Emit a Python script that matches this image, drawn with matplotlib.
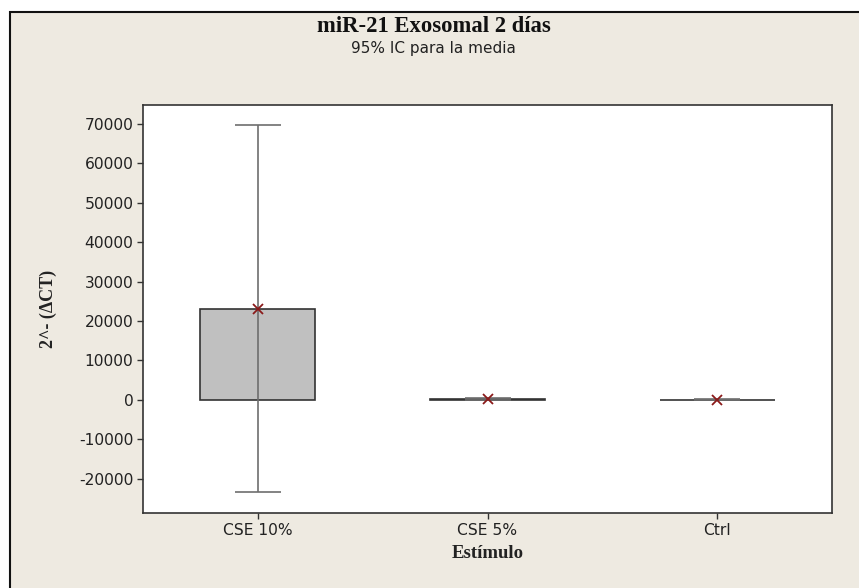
import matplotlib
matplotlib.use("Agg")
import matplotlib.pyplot as plt
from matplotlib.patches import Rectangle

categories = ["CSE 10%", "CSE 5%", "Ctrl"]
means = [23150, 250, 60]
ci_half = [46450, 300, 80]
yticks = [-20000, -10000, 0, 10000, 20000, 30000, 40000, 50000, 60000, 70000]

fig = plt.figure(figsize=(8.59, 5.88), dpi=100)
fig.patch.set_facecolor("white")
fig.patches.append(Rectangle((10/859, -0.05), 1.0, (588-12)/588 + 0.05,
                             transform=fig.transFigure, facecolor="#EEEAE1",
                             edgecolor="#111111", lw=1.5, zorder=-10))

ax = fig.add_axes([143/859, 1-513/588, (832-143)/859, (513-105)/588])
ax.set_facecolor("white")
x = list(range(1, len(categories)+1))
ax.bar(x, means, width=0.5, color="#C0C0C0", edgecolor="#333333", linewidth=1.2, zorder=2)
ax.errorbar(x, means, yerr=ci_half, fmt="none", ecolor="#6E6E6E", elinewidth=1.2,
            capsize=16.5, capthick=1.2, zorder=3)
ax.plot(x, means, linestyle="none", marker="x", color="#8B1A1A", markersize=6.5,
        markeredgewidth=1.3, zorder=4)

ax.set_xlim(0.5, 3.5)
ax.set_ylim(-28700, 74800)
ax.set_yticks(yticks)
ax.set_yticklabels([str(v) for v in yticks])
ax.set_xticks(x)
ax.set_xticklabels(categories)
for s in ax.spines.values():
    s.set_color("#333333")
    s.set_linewidth(1.2)
ax.tick_params(direction="out", length=4, width=1, colors="#333333", labelsize=11.2,
               labelcolor="#222222", pad=3)
for lab in ax.get_yticklabels() + ax.get_xticklabels():
    lab.set_family("DejaVu Sans")

ax.set_ylabel("2^- (ΔCT)", family="Liberation Serif", fontweight="bold", fontsize=13,
              color="#222222", labelpad=16)
ax.set_xlabel("Estímulo", family="Liberation Serif", fontweight="bold", fontsize=13.5,
              color="#222222", labelpad=5)

fig.text(0.5 + 4/859, 1-27/588, "miR-21 Exosomal 2 días", ha="center", va="center",
         family="Liberation Serif", fontweight="bold", fontsize=16.3, color="#111111")
fig.text(0.5 + 4/859, 1-48/588, "95% IC para la media", ha="center", va="center",
         family="DejaVu Sans", fontsize=11, color="#222222")

fig.savefig("out.png", dpi=100, facecolor=fig.get_facecolor())
